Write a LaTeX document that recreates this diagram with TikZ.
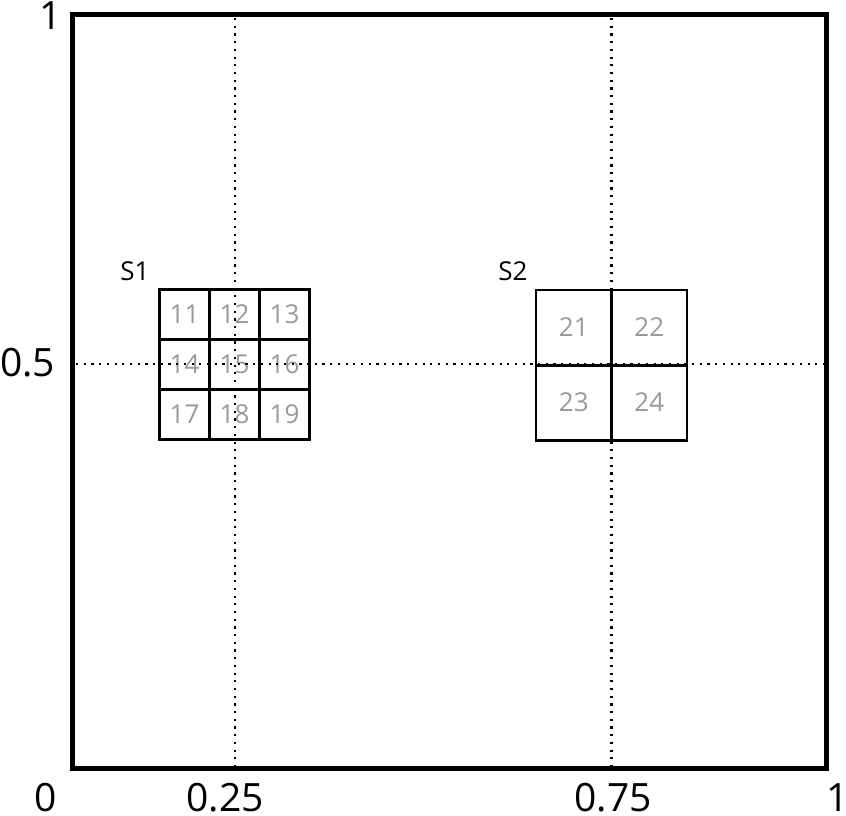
\documentclass[tikz,border=0pt]{standalone}
\usepackage{fontspec}
\setmainfont{Open Sans}
\usetikzlibrary{positioning}

\tikzset{
  axislabel/.style = {font=\fontsize{39}{39}\selectfont, inner sep=0pt},
  gridname/.style = {font=\fontsize{26}{26}\selectfont, inner sep=0pt},
  cellone/.style = {draw, line width=2.5pt, minimum size=50pt, inner sep=0pt,
    font=\fontsize{26}{26}\selectfont, text=black!40},
  celltwo/.style = {cellone, minimum size=75.5pt},
  guide/.style = {line width=2.3pt, dash pattern=on 2.2pt off 5.5pt}
}

\begin{document}
\begin{tikzpicture}[x = 1pt, y = -1pt]
\useasboundingbox (0, 0) rectangle (846, 815);

\draw[line width = 5pt] (72.5, 14.5) rectangle (826.5, 768);

% axis labels
\node[axislabel] (top) at (51, 16) {1};
\node[axislabel] (half) at (27.5, 363) {0.5};
\node[axislabel] (zero) at (46, 797.5) {0};
\node[axislabel] (quarter) at (225, 797.5) {0.25};
\node[axislabel] (threeq) at (613, 797.5) {0.75};
\node[axislabel] (one) at (838, 797.5) {1};

% first grid
\node[gridname] (s1) at (135, 271) {S1};
\foreach \n [count = \k from 0] in {11, ..., 19} {
  \pgfmathsetmacro\cx{184.5 + 50*mod(\k, 3)}
  \pgfmathsetmacro\cy{314.5 + 50*floor(\k/3)}
  \node[cellone] (c\n) at (\cx, \cy) {\n};
}

% second grid
\node[gridname] (s2) at (513, 271) {S2};
\foreach \n [count = \k from 0] in {21, ..., 24} {
  \pgfmathsetmacro\cx{573.75 + 75.5*mod(\k, 2)}
  \pgfmathsetmacro\cy{327.5 + 75*floor(\k/2)}
  \node[celltwo] (c\n) at (\cx, \cy) {\n};
}

% dotted guides
\draw[guide] (235, 18) -- (235, 765);
\draw[guide] (611.5, 18) -- (611.5, 765);
\draw[guide] (76, 364) -- (824, 364);

\end{tikzpicture}
\end{document}
